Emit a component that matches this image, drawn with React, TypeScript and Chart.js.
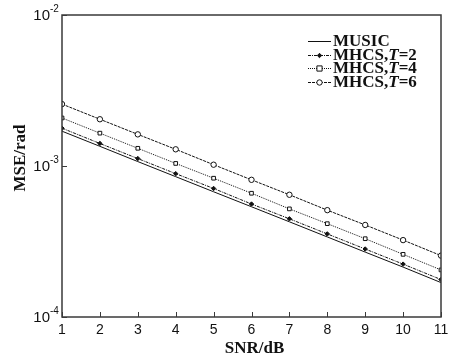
import React, { useEffect, useRef } from 'react';
import { Chart, registerables } from 'chart.js';
Chart.register(...registerables);

const snr = [1, 2, 3, 4, 5, 6, 7, 8, 9, 10, 11];
const music = [1.70e-3, 1.35e-3, 1.07e-3, 8.5e-4, 6.75e-4, 5.37e-4, 4.27e-4, 3.39e-4, 2.69e-4, 2.14e-4, 1.69e-4];
const mhcsT2 = [1.78e-3, 1.41e-3, 1.12e-3, 8.9e-4, 7.1e-4, 5.6e-4, 4.47e-4, 3.55e-4, 2.82e-4, 2.24e-4, 1.77e-4];
const mhcsT4 = [2.08e-3, 1.65e-3, 1.31e-3, 1.04e-3, 8.3e-4, 6.6e-4, 5.2e-4, 4.15e-4, 3.3e-4, 2.6e-4, 2.05e-4];
const mhcsT6 = [2.57e-3, 2.04e-3, 1.62e-3, 1.29e-3, 1.02e-3, 8.1e-4, 6.45e-4, 5.1e-4, 4.07e-4, 3.23e-4, 2.55e-4];
const xTickValues = [1, 2, 3, 4, 5, 6, 7, 8, 9, 10, 11];
const yTickValues = [1e-4, 1e-3, 1e-2];
const yTickExponents = ['-4', '-3', '-2'];
const legendPrefix = ['MUSIC', 'MHCS,', 'MHCS,', 'MHCS,'];
const legendItalic = ['', 'T', 'T', 'T'];
const legendSuffix = ['', '=2', '=4', '=6'];
const xTitle = 'SNR/dB';
const yTitle = 'MSE/rad';

const INK = '#111111';
const FRAME = '#3a3a3a';
const SERIF = '"Liberation Serif", "Times New Roman", serif';
const SANS = '"Liberation Sans", Arial, sans-serif';

const styles = [
  { dash: [] as number[], point: false as any, radius: 0, fill: INK },
  { dash: [3, 1, 1, 1], point: 'rectRot', radius: 2.2, fill: INK },
  { dash: [1, 1], point: 'rect', radius: 2.6, fill: '#ffffff' },
  { dash: [3, 1], point: 'circle', radius: 2.7, fill: '#ffffff' },
];

const decorPlugin = {
  id: 'decor',
  afterDraw(chart: any) {
    const ctx = chart.ctx;
    const { left, right, top, bottom } = chart.chartArea;
    const xs = chart.scales.x;
    const ys = chart.scales.y;
    ctx.save();
    ctx.strokeStyle = FRAME;
    ctx.lineWidth = 1.5;
    ctx.setLineDash([]);
    ctx.strokeRect(left, top, right - left, bottom - top);
    ctx.lineWidth = 1;
    xTickValues.forEach((v) => {
      const px = Math.round(xs.getPixelForValue(v)) + 0.5;
      ctx.beginPath();
      ctx.moveTo(px, bottom);
      ctx.lineTo(px, bottom - 5);
      ctx.stroke();
    });
    yTickValues.forEach((v) => {
      const py = Math.round(ys.getPixelForValue(v)) + 0.5;
      ctx.beginPath();
      ctx.moveTo(left, py);
      ctx.lineTo(left + 5, py);
      ctx.stroke();
    });
    ctx.fillStyle = INK;
    ctx.font = `14px ${SANS}`;
    ctx.textAlign = 'center';
    ctx.textBaseline = 'middle';
    xTickValues.forEach((v) => {
      ctx.fillText(String(v), xs.getPixelForValue(v), bottom + 13);
    });
    yTickValues.forEach((v, i) => {
      const py = ys.getPixelForValue(v);
      ctx.font = `15px ${SANS}`;
      ctx.textAlign = 'right';
      ctx.textBaseline = 'middle';
      ctx.fillText('10', left - 12, py + 1);
      ctx.font = `10px ${SANS}`;
      ctx.textAlign = 'left';
      ctx.fillText(yTickExponents[i], left - 12, py - 6);
    });
    ctx.font = `bold 17px ${SERIF}`;
    ctx.textAlign = 'center';
    ctx.textBaseline = 'middle';
    ctx.fillText(xTitle, (left + right) / 2 + 3, 349);
    ctx.save();
    ctx.translate(21, 158);
    ctx.rotate(-Math.PI / 2);
    ctx.fillText(yTitle, 0, 0);
    ctx.restore();
    const rowsY = [41, 55, 68, 82];
    rowsY.forEach((ry, i) => {
      const st = styles[i];
      ctx.strokeStyle = INK;
      ctx.lineWidth = 1;
      ctx.setLineDash(st.dash);
      ctx.beginPath();
      ctx.moveTo(308, ry + 0.5);
      ctx.lineTo(331, ry + 0.5);
      ctx.stroke();
      ctx.setLineDash([]);
      if (st.point) {
        ctx.fillStyle = st.fill;
        ctx.strokeStyle = INK;
        const cx = 319.5;
        const cy = ry + 0.5;
        const r = st.radius;
        ctx.beginPath();
        if (st.point === 'circle') {
          ctx.arc(cx, cy, r, 0, Math.PI * 2);
        } else if (st.point === 'rect') {
          ctx.rect(cx - r, cy - r, 2 * r, 2 * r);
        } else {
          ctx.moveTo(cx, cy - r);
          ctx.lineTo(cx + r, cy);
          ctx.lineTo(cx, cy + r);
          ctx.lineTo(cx - r, cy);
          ctx.closePath();
        }
        ctx.fill();
        ctx.stroke();
      }
      ctx.fillStyle = INK;
      ctx.textAlign = 'left';
      ctx.textBaseline = 'middle';
      let tx = 333;
      ctx.font = `bold 17px ${SERIF}`;
      ctx.fillText(legendPrefix[i], tx, ry + 1);
      tx += ctx.measureText(legendPrefix[i]).width;
      if (legendItalic[i]) {
        ctx.font = `italic bold 17px ${SERIF}`;
        ctx.fillText(legendItalic[i], tx, ry + 1);
        tx += ctx.measureText(legendItalic[i]).width;
        ctx.font = `bold 17px ${SERIF}`;
        ctx.fillText(legendSuffix[i], tx, ry + 1);
      }
    });
    ctx.restore();
  },
};

export default function App() {
  const ref = useRef<HTMLCanvasElement>(null);
  useEffect(() => {
    document.body.style.margin = '0';
    const series = [music, mhcsT2, mhcsT4, mhcsT6];
    const names = ['MUSIC', 'MHCS,T=2', 'MHCS,T=4', 'MHCS,T=6'];
    const chart = new Chart(ref.current as HTMLCanvasElement, {
      type: 'line',
      data: {
        datasets: series.map((vals, i) => ({
          label: names[i],
          data: snr.map((x, j) => ({ x, y: vals[j] })),
          borderColor: INK,
          borderWidth: 1,
          borderDash: styles[i].dash,
          pointStyle: styles[i].point,
          pointRadius: styles[i].radius,
          pointBackgroundColor: styles[i].fill,
          pointBorderColor: INK,
          pointBorderWidth: 1,
          tension: 0,
          fill: false,
        })),
      },
      options: {
        responsive: false,
        animation: false,
        layout: { padding: { top: 15, right: 12, left: 0, bottom: 0 } },
        plugins: { legend: { display: false }, tooltip: { enabled: false } },
        scales: {
          x: {
            type: 'linear',
            min: 1,
            max: 11,
            grid: { display: false, drawTicks: false },
            border: { display: false },
            ticks: { display: false },
            afterFit: (s: any) => { s.height = 42; },
          },
          y: {
            type: 'logarithmic',
            min: 1e-4,
            max: 1e-2,
            grid: { display: false, drawTicks: false },
            border: { display: false },
            ticks: { display: false },
            afterFit: (s: any) => { s.width = 62; },
          },
        },
      } as any,
      plugins: [decorPlugin],
    });
    return () => chart.destroy();
  }, []);
  return (
    <div style={{ width: 453, height: 359, background: '#fff' }}>
      <canvas ref={ref} width={453} height={359} style={{ display: 'block' }} />
    </div>
  );
}
